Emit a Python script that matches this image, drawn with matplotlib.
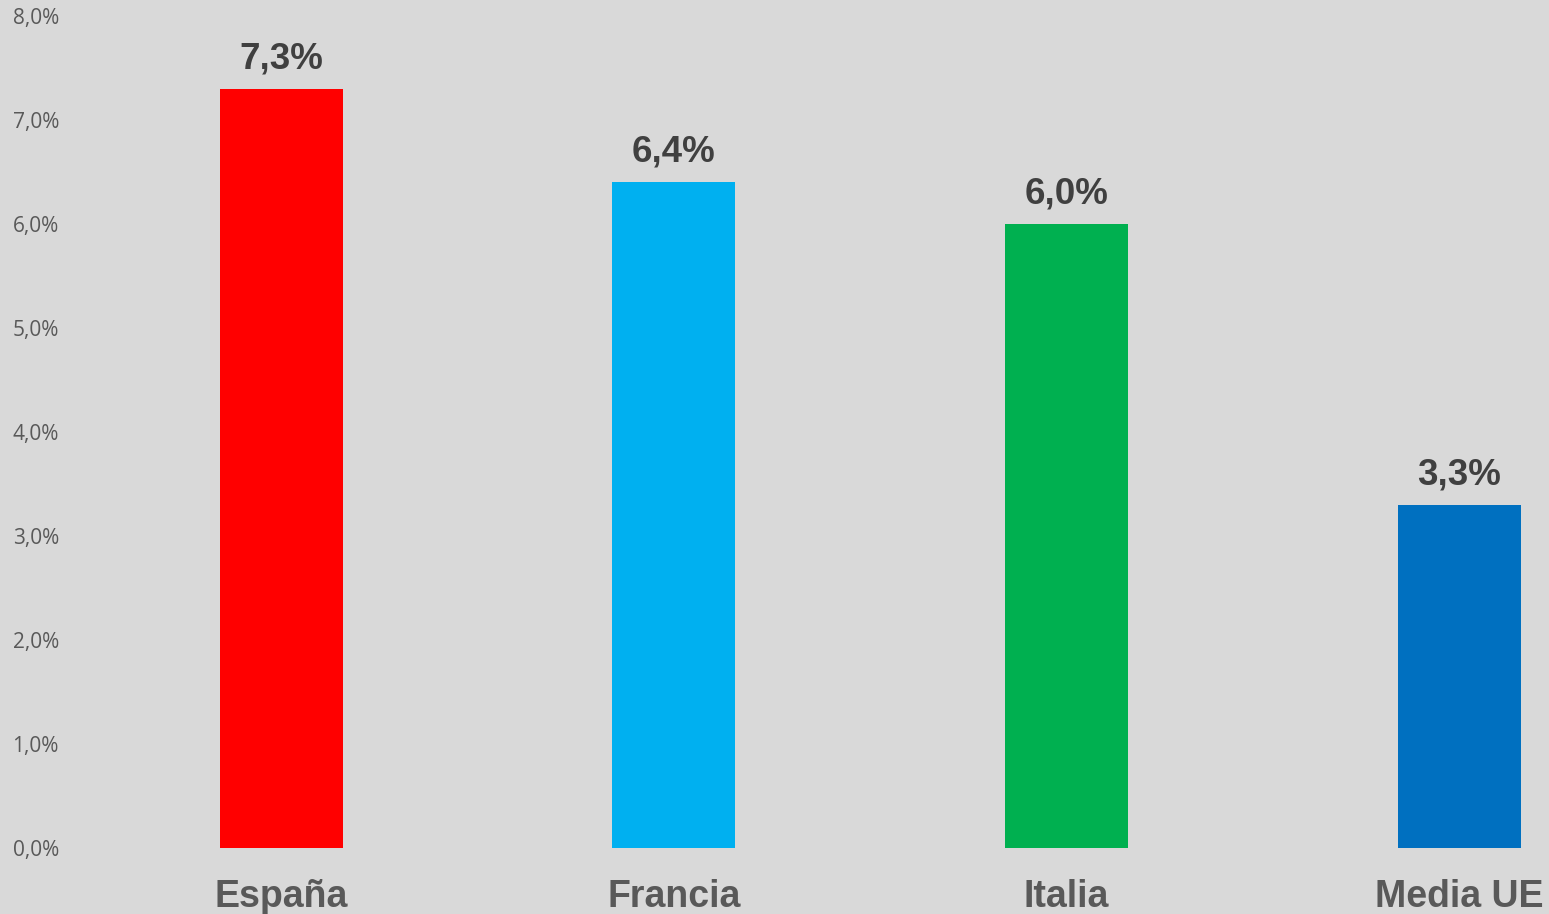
import matplotlib
matplotlib.use("Agg")
import matplotlib.pyplot as plt
from matplotlib.ticker import FuncFormatter

categories = ["España", "Francia", "Italia", "Media UE"]
values = [7.3, 6.4, 6.0, 3.3]
colors = ["#FF0000", "#00B0F0", "#00B050", "#0070C0"]
yticks = [0, 1, 2, 3, 4, 5, 6, 7, 8]

W, H = 1549, 914
fig = plt.figure(figsize=(W / 100, H / 100), dpi=100)
fig.patch.set_facecolor("#D9D9D9")

left_px, right_px, bottom_px, top_px = 70, 1549, 848, 16
ax = fig.add_axes([left_px / W, (H - bottom_px) / H, (right_px - left_px) / W, (bottom_px - top_px) / H])
ax.set_facecolor("#D9D9D9")

spacing = 392.7
c0 = 281
ax.set_xlim((left_px - c0) / spacing, (right_px - c0) / spacing)
ax.set_ylim(0, 8)

x = list(range(len(categories)))
ax.bar(x, values, width=123 / spacing, color=colors)

for xi, v in zip(x, values):
    ax.text(xi, v + 0.12, f"{v:.1f}%".replace(".", ","), ha="center", va="bottom",
            fontsize=26.5, fontweight="bold", color="#404040", family="Liberation Sans")

ax.set_yticks(yticks)
ax.yaxis.set_major_formatter(FuncFormatter(lambda v, p: f"{v:.1f}%".replace(".", ",")))
ax.set_xticks(x)
ax.set_xticklabels(categories, fontsize=27, fontweight="bold", color="#595959", family="Liberation Sans")
for lab in ax.get_yticklabels():
    lab.set_fontsize(15)
    lab.set_color("#595959")
    lab.set_family("Open Sans")
ax.tick_params(axis="both", length=0)
ax.tick_params(axis="x", pad=22)
ax.tick_params(axis="y", pad=8)
for s in ax.spines.values():
    s.set_visible(False)

fig.savefig("out.png", dpi=100, facecolor=fig.get_facecolor())
